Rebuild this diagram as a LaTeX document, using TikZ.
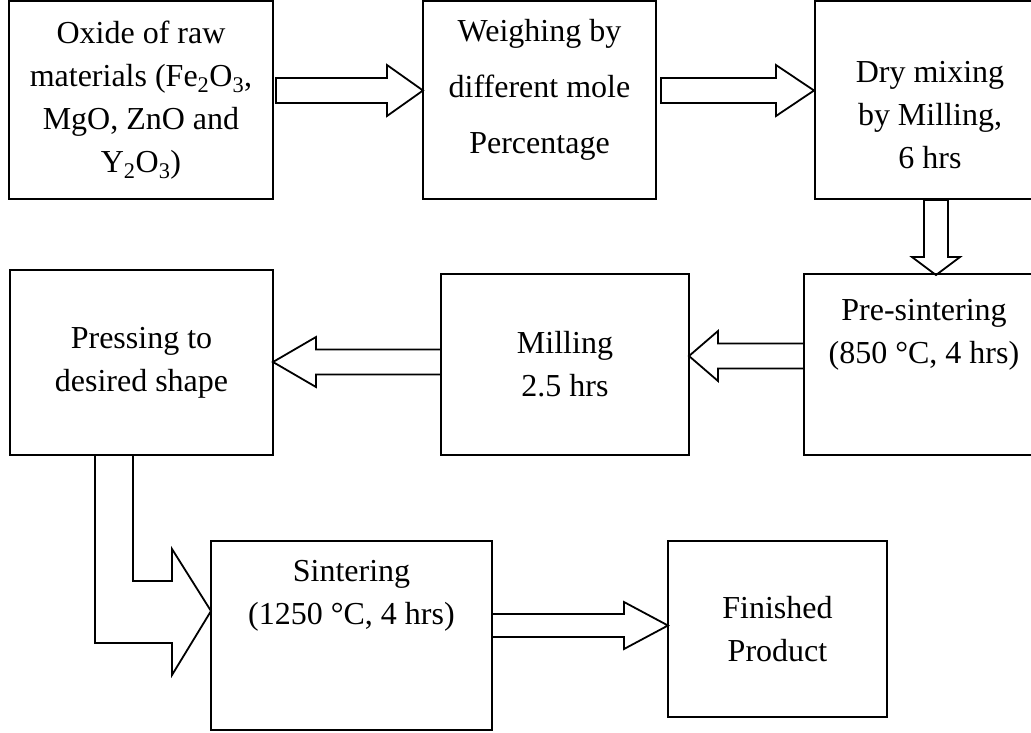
\documentclass[tikz,border=0pt]{standalone}
\usepackage{fontspec}
\setmainfont{Liberation Serif}
\usetikzlibrary{calc}

\tikzset{
  stage/.style={draw, line width=1.8pt, rectangle, align=center, inner sep=0pt, outer sep=0pt,
    font=\fontsize{32}{43}\selectfont},
  blockarrow/.style={draw, line width=1.8pt, line join=miter}
}

\begin{document}
\begin{tikzpicture}[x=1pt, y=-1pt]
    \useasboundingbox (0,0) rectangle (1031,732);
    % first row
    \node[stage, minimum width=264pt, minimum height=198pt] (Oxide) at (141,100)
      {Oxide of raw\\materials (Fe\textsubscript{2}O\textsubscript{3},\\MgO, ZnO and\\Y\textsubscript{2}O\textsubscript{3})};
    \node[stage, minimum width=233pt, minimum height=198pt] (Weighing) at (539.5,100)
      {Weighing by\\[13pt]different mole\\[13pt]Percentage\\[-16pt]\mbox{}};
    \node[stage, minimum width=230pt, minimum height=198pt] (DryMix) at (930,100)
      {\mbox{}\\[8pt]Dry mixing\\by Milling,\\6 hrs};
    % second row, right to left
    \node[stage, minimum width=240pt, minimum height=181pt] (PreSinter) at (924,364.5)
      {Pre-sintering\\(850 °C, 4 hrs)\\\mbox{}\\[-20pt]\mbox{}};
    \node[stage, minimum width=248pt, minimum height=181pt] (Milling) at (565,364.5)
      {Milling\\2.5 hrs};
    \node[stage, minimum width=263pt, minimum height=185pt] (Pressing) at (141.5,362.5)
      {Pressing to\\desired shape};
    % last row
    \node[stage, minimum width=281pt, minimum height=189pt] (Sinter) at (351.5,635.5)
      {Sintering\\(1250 °C, 4 hrs)\\\mbox{}\\\mbox{}};
    \node[stage, minimum width=219pt, minimum height=176pt] (Finished) at (777.5,629)
      {Finished\\Product};

    % ends of the hollow arrows
    \coordinate (OxideOut)  at ($(Oxide.east)+(3,-9.5)$);
    \coordinate (WeighIn)   at ($(Weighing.west)+(0,-9.5)$);
    \coordinate (WeighOut)  at ($(Weighing.east)+(5,-9.5)$);
    \coordinate (DryIn)     at ($(DryMix.west)+(-1,-9.5)$);
    \coordinate (DryOut)    at ($(DryMix.south)+(6,1)$);
    \coordinate (PreIn)     at ($(PreSinter.north)+(12,1)$);
    \coordinate (PreOut)    at ($(PreSinter.west)+(0,-8.5)$);
    \coordinate (MillIn)    at ($(Milling.east)+(0,-8.5)$);
    \coordinate (MillOut)   at ($(Milling.west)+(0,-2.5)$);
    \coordinate (PressIn)   at ($(Pressing.east)+(0,-0.5)$);
    \coordinate (SinterOut) at ($(Sinter.east)+(0,-10)$);
    \coordinate (FinIn)     at ($(Finished.west)+(0,-3.5)$);
    \foreach \src/\dst/\sw/\hw/\hl in {OxideOut/WeighIn/12.5pt/25.5pt/36pt,
        WeighOut/DryIn/12.5pt/25.5pt/38pt, DryOut/PreIn/12pt/24pt/18pt,
        PreOut/MillIn/12.5pt/25pt/29pt, MillOut/PressIn/12.5pt/25pt/43pt,
        SinterOut/FinIn/11.5pt/23.5pt/44pt}{% shaft, head half width, head length
      \coordinate (HeadBase) at ($(\dst)!\hl!(\src)$);
      \draw[blockarrow] ($(\src)!\sw!90:(\dst)$) -- ($(HeadBase)!\sw!90:(\dst)$)
        -- ($(HeadBase)!\hw!90:(\dst)$) -- (\dst) -- ($(HeadBase)!\hw!-90:(\dst)$)
        -- ($(HeadBase)!\sw!-90:(\dst)$) -- ($(\src)!\sw!-90:(\dst)$) -- cycle;
    }

    % bent arrow down to sintering
    \coordinate (SinterIn) at ($(Sinter.west)+(0,-24.5)$);
    \draw[blockarrow] ($(Pressing.south)+(-46.5,0)$) |- ($(SinterIn)+(-39,32)$)
      -- ($(SinterIn)+(-39,64)$) -- (SinterIn) -- ($(SinterIn)+(-39,-62)$)
      -- ($(SinterIn)+(-39,-30)$) -| ($(Pressing.south)+(-8.5,0)$);
\end{tikzpicture}
\end{document}
